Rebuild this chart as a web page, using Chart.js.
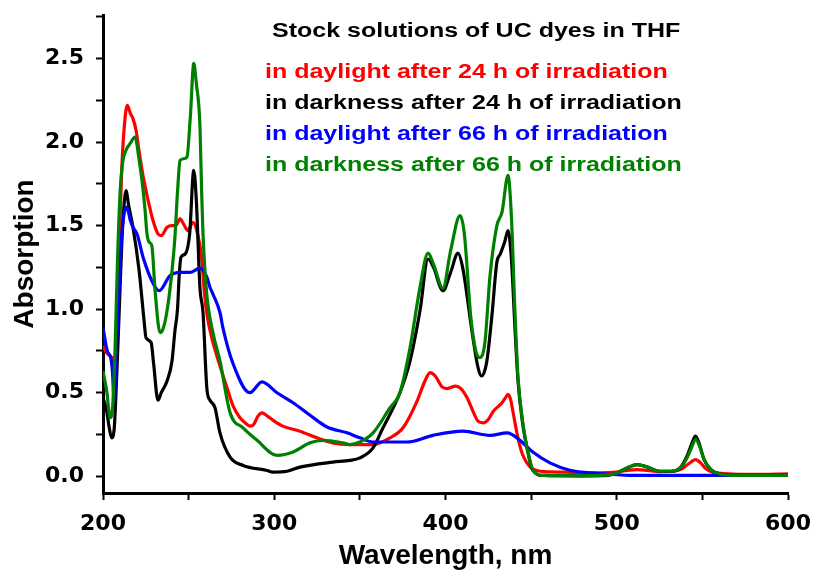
<!DOCTYPE html>
<html>
<head>
  <title>UC dyes in THF - absorption</title>
  <script src="https://cdn.jsdelivr.net/npm/chart.js"></script>
  <style>
    body { margin: 0; background: #fff; }
    #wrap { width: 814px; height: 573px; }
  </style>
</head>
<body>
  <div id="wrap"><canvas id="absChart" width="814" height="573"></canvas></div>

  <script>
    // in daylight after 24 h
    const redNm  = [200, 202, 204, 206, 207, 208, 209.5, 211, 212.5, 214.2, 216, 217.5, 219.3, 221, 223, 225.5, 227.5, 229.2, 232.1, 234, 237.4, 240.3, 242.5, 245, 247, 249.6, 252.6, 255, 257.5, 259.2, 261, 264, 268, 272.4, 276, 280, 283, 285.8, 288, 290.5, 292.8, 296, 300, 305, 315, 325, 334, 344, 357.7, 367.6, 375.2, 383.4, 388, 391, 394, 398, 401, 406, 409, 412.6, 416, 419, 422, 425, 428, 431, 433, 435, 436.5, 438, 439.5, 442.3, 445, 447.6, 450, 453.4, 458, 470, 490, 500, 506, 512, 518, 525, 533, 538, 542, 546, 549, 552, 556, 565, 580, 600];
    const redAbs = [0.78, 0.74, 0.72, 0.70, 0.66, 0.90, 1.40, 1.85, 2.10, 2.22, 2.17, 2.14, 2.07, 1.95, 1.82, 1.69, 1.60, 1.53, 1.45, 1.44, 1.49, 1.50, 1.50, 1.54, 1.51, 1.47, 1.52, 1.46, 1.32, 1.10, 0.95, 0.81, 0.67, 0.53, 0.42, 0.35, 0.32, 0.30, 0.31, 0.36, 0.38, 0.36, 0.33, 0.30, 0.27, 0.23, 0.20, 0.19, 0.19, 0.23, 0.29, 0.45, 0.57, 0.62, 0.60, 0.535, 0.525, 0.54, 0.525, 0.47, 0.39, 0.33, 0.32, 0.34, 0.39, 0.42, 0.44, 0.47, 0.49, 0.46, 0.38, 0.23, 0.13, 0.08, 0.05, 0.035, 0.028, 0.025, 0.02, 0.025, 0.035, 0.04, 0.035, 0.028, 0.03, 0.045, 0.075, 0.10, 0.08, 0.045, 0.025, 0.015, 0.012, 0.015];

    // in darkness after 24 h
    const blackNm  = [200, 202, 203.5, 205, 206.5, 208, 209.5, 211, 212.5, 213.4, 215, 217.5, 221.1, 224, 225.1, 228.1, 229.5, 232.1, 234, 237.4, 240.3, 242, 243.5, 244.5, 245.5, 248, 250.6, 253, 254.5, 256.6, 258.4, 260.7, 262.5, 265.4, 268.3, 274.2, 281.8, 295.8, 299.3, 307.4, 315, 334.3, 344.2, 350, 357.7, 363.5, 373.4, 379.3, 385.1, 389.8, 393, 398.5, 403, 407.3, 410, 416, 419, 421, 424, 427, 430, 432, 434.5, 436.5, 438.5, 440.5, 442.3, 445, 447.6, 451, 457, 480, 495, 500, 506, 512, 518, 525, 532, 537, 541, 544, 546, 548, 551, 555, 560, 570, 600];
    const blackAbs = [0.47, 0.40, 0.30, 0.23, 0.28, 0.60, 1.00, 1.40, 1.65, 1.71, 1.62, 1.49, 1.23, 0.93, 0.83, 0.80, 0.68, 0.455, 0.50, 0.57, 0.69, 0.87, 1.00, 1.20, 1.31, 1.33, 1.45, 1.83, 1.65, 1.13, 0.98, 0.52, 0.455, 0.41, 0.26, 0.115, 0.065, 0.035, 0.025, 0.03, 0.055, 0.085, 0.095, 0.11, 0.17, 0.29, 0.50, 0.69, 0.99, 1.30, 1.25, 1.11, 1.22, 1.335, 1.25, 0.83, 0.65, 0.60, 0.68, 0.95, 1.28, 1.33, 1.40, 1.47, 1.30, 0.90, 0.575, 0.32, 0.17, 0.035, 0.005, 0.003, 0.005, 0.02, 0.05, 0.07, 0.055, 0.03, 0.03, 0.05, 0.12, 0.20, 0.24, 0.20, 0.10, 0.04, 0.015, 0.005, 0.005];

    // in daylight after 66 h
    const blueNm  = [200, 202.5, 204.5, 205.5, 206.5, 208, 209.5, 211, 212.5, 213.9, 216, 217.5, 219.9, 223.4, 229.2, 232.7, 239.1, 245, 250.8, 256.6, 260.7, 262.5, 264.2, 268.3, 270, 275.9, 285.8, 292.8, 301.6, 311, 320.9, 330.8, 342.5, 350, 357.7, 377.5, 392.7, 410.2, 426, 436, 443.5, 451, 461, 472.7, 488.5, 507.7, 600];
    const blueAbs = [0.89, 0.75, 0.71, 0.63, 0.45, 0.80, 1.15, 1.45, 1.58, 1.61, 1.53, 1.49, 1.45, 1.31, 1.155, 1.11, 1.20, 1.22, 1.22, 1.245, 1.19, 1.13, 1.09, 0.98, 0.89, 0.675, 0.50, 0.565, 0.50, 0.44, 0.365, 0.295, 0.26, 0.23, 0.205, 0.205, 0.245, 0.27, 0.245, 0.26, 0.215, 0.145, 0.08, 0.036, 0.018, 0.006, 0.005];

    // in darkness after 66 h
    const greenNm  = [200, 202.3, 204.1, 205.5, 207, 208.5, 210, 211.5, 213.4, 215.8, 218.7, 221, 223, 224.5, 225.7, 227, 228.5, 230.5, 233.3, 235, 237.4, 240.3, 242, 243.5, 245, 247, 249, 251, 253, 254.5, 256.6, 257.6, 258.4, 260.5, 264.2, 268.3, 274.2, 281.8, 290, 301.6, 311, 320.9, 328.5, 340, 344.2, 350, 357.7, 367.6, 373.4, 379.3, 385.1, 389.8, 393, 398.5, 403, 408.5, 411, 414.8, 417.7, 420, 423, 426, 430, 433, 436.5, 438.5, 440.5, 442.3, 445, 447.6, 451, 457, 480, 495, 500, 506, 512, 518, 525, 532, 537, 541, 544, 546, 548, 551, 555, 560, 570, 600];
    const greenAbs = [0.63, 0.50, 0.35, 0.40, 0.75, 1.30, 1.70, 1.88, 1.95, 1.99, 2.03, 1.90, 1.75, 1.60, 1.45, 1.40, 1.38, 1.10, 0.86, 0.88, 0.99, 1.23, 1.43, 1.70, 1.89, 1.90, 1.91, 2.15, 2.47, 2.35, 2.10, 1.70, 1.45, 1.10, 0.86, 0.69, 0.38, 0.29, 0.215, 0.125, 0.145, 0.20, 0.215, 0.20, 0.19, 0.205, 0.26, 0.41, 0.50, 0.77, 1.13, 1.335, 1.27, 1.125, 1.35, 1.56, 1.45, 0.95, 0.75, 0.71, 0.80, 1.20, 1.50, 1.58, 1.80, 1.55, 1.00, 0.60, 0.33, 0.17, 0.04, 0.005, 0.003, 0.008, 0.02, 0.05, 0.07, 0.055, 0.03, 0.03, 0.05, 0.11, 0.18, 0.22, 0.19, 0.10, 0.04, 0.015, 0.005, 0.005];

    const xTicks = [200, 250, 300, 350, 400, 450, 500, 550, 600];
    const yTicks = [0, 0.25, 0.5, 0.75, 1.0, 1.25, 1.5, 1.75, 2.0, 2.25, 2.5, 2.75];

    const chartTitle = 'Stock solutions of UC dyes in THF';
    const seriesLabels = [
      'in daylight after 24 h of irradiation',
      'in darkness after 24 h of irradiation',
      'in daylight after 66 h of irradiation',
      'in darkness after 66 h of irradiation'
    ];
    const seriesColors = ['#ff0000', '#000000', '#0000ff', '#008000'];

    const toPoints = (xs, ys) => xs.map((x, i) => ({ x: x, y: ys[i] }));

    // text block in the top right, drawn a bit wide like the original figure
    const textPlugin = {
      id: 'textBlock',
      afterDraw: (chart) => {
        const ctx = chart.ctx;
        ctx.save();
        ctx.font = 'bold 20px "Liberation Sans", Arial, sans-serif';
        ctx.textBaseline = 'alphabetic';
        const drawWide = (txt, x, y, color) => {
          ctx.save();
          ctx.translate(x, y);
          ctx.scale(1.25, 1);
          ctx.fillStyle = color;
          ctx.fillText(txt, 0, 0);
          ctx.restore();
        };
        drawWide(chartTitle, 272, 37, '#000');
        seriesLabels.forEach((t, i) => drawWide(t, 265, 78 + i * 31, seriesColors[i]));
        ctx.restore();
      }
    };

    const tickFont = { family: '"DejaVu Sans", sans-serif', weight: 'bold', size: 22 };
    const titleFont = { family: '"Liberation Sans", Arial, sans-serif', weight: 'bold', size: 28 };

    const makeSet = (i, xs, ys, order) => ({
      label: seriesLabels[i],
      data: toPoints(xs, ys),
      borderColor: seriesColors[i],
      borderWidth: 3.2,
      pointRadius: 0,
      fill: false,
      cubicInterpolationMode: 'monotone',
      order: order
    });

    const ctx = document.getElementById('absChart').getContext('2d');
    new Chart(ctx, {
      type: 'line',
      data: {
        datasets: [
          makeSet(0, redNm, redAbs, 4),
          makeSet(1, blackNm, blackAbs, 3),
          makeSet(2, blueNm, blueAbs, 2),
          makeSet(3, greenNm, greenAbs, 1)
        ]
      },
      options: {
        responsive: false,
        animation: false,
        devicePixelRatio: 1,
        layout: { padding: { left: 0, top: 15, right: 26, bottom: 0 } },
        plugins: {
          legend: { display: false },
          tooltip: { enabled: false }
        },
        scales: {
          x: {
            type: 'linear',
            min: 200,
            max: 600,
            afterBuildTicks: (s) => { s.ticks = xTicks.map(v => ({ value: v })); },
            afterFit: (s) => { s.height = 80; s.paddingLeft = 0; s.paddingRight = 0; },
            border: { display: true, color: '#000', width: 3 },
            grid: { drawOnChartArea: false, drawTicks: true, tickLength: 7, tickColor: '#000', tickWidth: 2 },
            ticks: {
              color: '#000',
              font: tickFont,
              padding: 11,
              maxRotation: 0,
              autoSkip: false,
              callback: (v) => (v % 100 === 0 ? String(v) : '')
            },
            title: {
              display: true,
              text: 'Wavelength, nm',
              color: '#000',
              font: titleFont,
              padding: { top: 0, bottom: 0 }
            }
          },
          y: {
            type: 'linear',
            min: -0.1,
            max: 2.76,
            afterBuildTicks: (s) => { s.ticks = yTicks.map(v => ({ value: v })); },
            afterFit: (s) => { s.width = 103; s.paddingTop = 0; s.paddingBottom = 0; },
            border: { display: true, color: '#000', width: 3 },
            grid: { drawOnChartArea: false, drawTicks: true, tickLength: 7, tickColor: '#000', tickWidth: 2 },
            ticks: {
              color: '#000',
              font: tickFont,
              padding: 12,
              autoSkip: false,
              callback: (v) => (Math.abs(v * 2 - Math.round(v * 2)) < 1e-6 ? v.toFixed(1) : '')
            },
            title: {
              display: true,
              text: 'Absorption',
              color: '#000',
              font: titleFont,
              padding: { top: 8, bottom: 0 }
            }
          }
        }
      },
      plugins: [textPlugin]
    });
  </script>
</body>
</html>
